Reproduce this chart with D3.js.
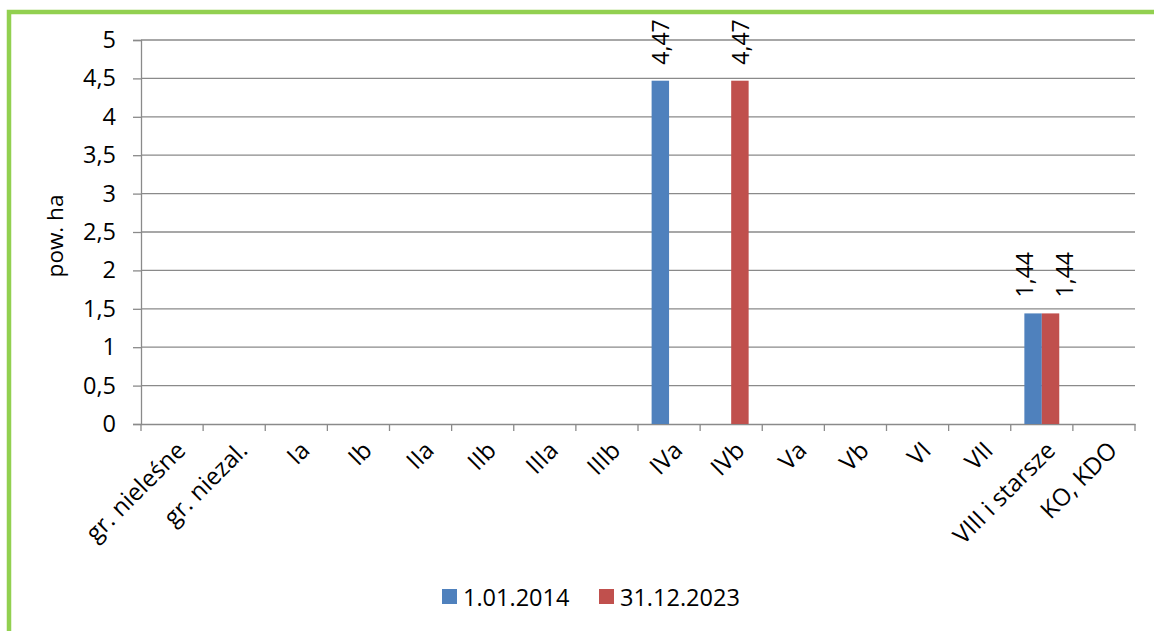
<!DOCTYPE html>
<html><head><meta charset="utf-8">
<script src="https://cdn.jsdelivr.net/npm/d3@7"></script>
<style>body{margin:0;background:#fff}svg{display:block;font-family:"Open Sans",sans-serif}</style>
</head><body><svg id="c" width="1154" height="631"></svg>
<script>
const categories = ["gr. nieleśne","gr. niezal.","Ia","Ib","IIa","IIb","IIIa","IIIb","IVa","IVb","Va","Vb","VI","VII","VIII i starsze","KO, KDO"];
const seriesNames = ["1.01.2014","31.12.2023"];
const series2014 = [null,null,null,null,null,null,null,null,4.47,null,null,null,null,null,1.44,null];
const series2023 = [null,null,null,null,null,null,null,null,null,4.47,null,null,null,null,1.44,null];
const colors = ["#4F81BD","#C0504D"];
const yTicks = [0,0.5,1,1.5,2,2.5,3,3.5,4,4.5,5];
const yTitle = "pow. ha";

const svg = d3.select("#c");
const L=141,R=1135,T=40,B=424;
const grid="#8a8a8a";
// frame
svg.append("rect").attr("x",9).attr("y",12).attr("width",1200).attr("height",700)
  .attr("fill","none").attr("stroke","#92D050").attr("stroke-width",4.5);

const x0 = d3.scaleBand().domain(categories).range([L,R]).paddingInner(0).paddingOuter(0);
const x1 = d3.scaleBand().domain(seriesNames).range([0,x0.bandwidth()]).paddingInner(0).paddingOuter(0.78);
const y = d3.scaleLinear().domain([0,5]).range([B,T]);
const fmt = v => String(v).replace(".",",");

// gridlines
svg.append("g").selectAll("line").data(yTicks.filter(d=>d>0)).join("line")
  .attr("x1",L).attr("x2",R).attr("y1",d=>y(d)).attr("y2",d=>y(d))
  .attr("stroke",grid).attr("stroke-width",1.3);

// y axis
const ya = svg.append("g").attr("transform",`translate(${L},0)`)
  .call(d3.axisLeft(y).tickValues(yTicks).tickFormat(fmt).tickSize(8).tickPadding(17));
ya.select(".domain").attr("stroke",grid).attr("stroke-width",1.3);
ya.selectAll(".tick line").attr("stroke",grid).attr("stroke-width",1.3);
ya.selectAll("text").attr("font-size",23.5).attr("fill","#000").attr("font-family","Open Sans");

// x axis
const xa = svg.append("g").attr("transform",`translate(0,${B})`)
  .call(d3.axisBottom(x0).tickSize(0).tickFormat(""));
xa.select(".domain").attr("stroke",grid).attr("stroke-width",1.3);
const edges = categories.map((c,i)=>x0(c)).concat([R]);
svg.append("g").selectAll("line").data(edges).join("line")
  .attr("x1",d=>d).attr("x2",d=>d).attr("y1",B).attr("y2",B+7)
  .attr("stroke",grid).attr("stroke-width",1.3);
svg.append("g").selectAll("text").data(categories).join("text")
  .attr("transform",d=>`translate(${x0(d)+x0.bandwidth()/2+3},${B+16}) rotate(-45)`)
  .attr("text-anchor","end").attr("dy","0.7em").attr("font-size",24).attr("fill","#000")
  .text(d=>d);

// bars
const data = [series2014, series2023];
data.forEach((vals,si)=>{
  const g = svg.append("g");
  const other = data[1-si];
  const pts = categories.map((c,i)=>({c,v:vals[i],shared:other[i]!=null})).filter(d=>d.v!=null);
  g.selectAll("rect").data(pts).join("rect")
    .attr("x",d=>x0(d.c)+x1(seriesNames[si])).attr("width",x1.bandwidth())
    .attr("y",d=>y(d.v)).attr("height",d=>y(0)-y(d.v)).attr("fill",colors[si]);
  const dodge = si===0 ? -9 : 13;
  g.selectAll("text").data(pts).join("text")
    .attr("transform",d=>`translate(${x0(d.c)+x1(seriesNames[si])+x1.bandwidth()/2+9+(d.shared?dodge:0)},${y(d.v)-16}) rotate(-90)`)
    .attr("font-size",23).attr("fill","#000").text(d=>fmt(d.v));
});

// y title
svg.append("text").attr("transform",`translate(63,236) rotate(-90)`).attr("text-anchor","middle")
  .attr("font-size",22.5).attr("fill","#000").text(yTitle);

// legend
const lg = svg.append("g");
const lx=[442,599];
seriesNames.forEach((s,i)=>{
  lg.append("rect").attr("x",lx[i]).attr("y",589).attr("width",15).attr("height",15).attr("fill",colors[i]);
  lg.append("text").attr("x",lx[i]+21).attr("y",606).attr("font-size",23.5).attr("fill","#000").text(s);
});
</script></body></html>
